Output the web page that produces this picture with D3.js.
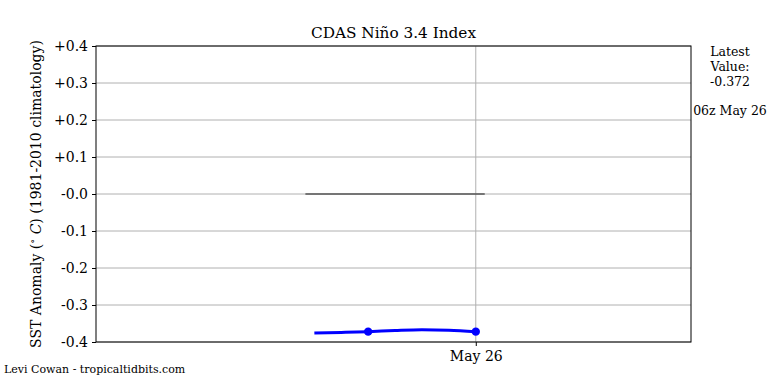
<!DOCTYPE html>
<meta charset="utf-8">
<head>
  <title>CDAS Nino 3.4 Index</title>
  <script src="https://d3js.org/d3.v7.min.js"></script>
  <style>
    body { margin: 0; background: #fff; }
    .grid line { stroke: #b0b0b0; stroke-width: 1; }
    .axis path, .axis line { stroke: #000; }
  </style>
</head>
<body>
  <svg width="768" height="384"></svg>
  <script>
    // hours relative to 00z May 26
    var hours = [-36, -30, -24, -18, -12, -6, 0];
    var values = [-0.376, -0.374, -0.372, -0.369, -0.367, -0.368, -0.372];
    var markerHours = [-24, 0];
    var markerValues = [-0.372, -0.372];
    var yTicks = [-0.4, -0.3, -0.2, -0.1, 0, 0.1, 0.2, 0.3, 0.4];
    var zeroSpan = [-38, 2];

    var FONT = "'DejaVu Serif'";
    var base = Date.UTC(2023, 4, 26, 0);
    function t(h) { return new Date(base + h * 3600e3); }

    var svg = d3.select("svg"),
      pl = 96, pr = 691, pt = 46, pb = 342;

    var x = d3.scaleUtc().domain([t(-84.7), t(48)]).range([pl, pr]);
    var y = d3.scaleLinear().domain([-0.4, 0.4]).range([pb, pt]);

    function fmt(v) {
      var s = Math.abs(v).toFixed(1);
      return (v > 0.0001 ? "+" : "-") + s;
    }

    // grid
    var grid = svg.append("g").attr("class", "grid");
    grid.selectAll("line.h").data(yTicks).enter().append("line")
      .attr("x1", pl).attr("x2", pr)
      .attr("y1", function(d) { return y(d); })
      .attr("y2", function(d) { return y(d); });
    grid.append("line")
      .attr("x1", x(t(0))).attr("x2", x(t(0)))
      .attr("y1", pt).attr("y2", pb);

    // zero line
    svg.append("line")
      .attr("x1", x(t(zeroSpan[0]))).attr("x2", x(t(zeroSpan[1])))
      .attr("y1", y(0)).attr("y2", y(0))
      .attr("stroke", "#555").attr("stroke-width", 1.5);

    // series
    var line = d3.line()
      .x(function(d, i) { return x(t(hours[i])); })
      .y(function(d) { return y(d); })
      .curve(d3.curveMonotoneX);
    svg.append("path").datum(values)
      .attr("d", line)
      .attr("fill", "none").attr("stroke", "#0000ff").attr("stroke-width", 3);
    svg.selectAll("circle").data(markerValues).enter().append("circle")
      .attr("cx", function(d, i) { return x(t(markerHours[i])); })
      .attr("cy", function(d) { return y(d); })
      .attr("r", 4.2).attr("fill", "#0000ff");

    // frame
    svg.append("rect")
      .attr("x", pl).attr("y", pt)
      .attr("width", pr - pl).attr("height", pb - pt)
      .attr("fill", "none").attr("stroke", "#000").attr("stroke-width", 1);

    // axes
    var yAxis = svg.append("g").attr("class", "axis")
      .attr("transform", "translate(" + pl + ",0)")
      .call(d3.axisLeft(y).tickValues(yTicks).tickFormat(fmt).tickSize(4).tickPadding(4));
    yAxis.select(".domain").remove();
    yAxis.selectAll("text").style("font-size", "14px").style("font-family", FONT).attr("fill", "#000");

    var xAxis = svg.append("g").attr("class", "axis")
      .attr("transform", "translate(0," + pb + ")")
      .call(d3.axisBottom(x).tickValues([t(0)]).tickFormat(function() { return "May 26"; }).tickSize(4).tickPadding(5));
    xAxis.select(".domain").remove();
    xAxis.selectAll("text").style("font-size", "14px").style("font-family", FONT).attr("fill", "#000");

    // title and labels
    svg.append("text").attr("x", (pl + pr) / 2).attr("y", 38)
      .attr("text-anchor", "middle").style("font-size", "15.3px").style("font-family", FONT)
      .text("CDAS Niño 3.4 Index");

    var ylab = svg.append("text")
      .attr("transform", "translate(41," + ((pt + pb) / 2) + ") rotate(-90)")
      .attr("text-anchor", "middle").style("font-size", "14px").style("font-family", FONT);
    ylab.append("tspan").text("SST Anomaly (");
    ylab.append("tspan").attr("dy", -5).style("font-size", "10px").text("\u2218");
    ylab.append("tspan").attr("dy", 5).text(" ");
    ylab.append("tspan").style("font-style", "italic").text("C");
    ylab.append("tspan").text(") (1981-2010 climatology)");

    var side = svg.append("text").attr("text-anchor", "middle")
      .style("font-size", "12.5px").style("font-family", FONT);
    [["Latest", 56], ["Value:", 71], ["-0.372", 86], ["06z May 26", 115]].forEach(function(r) {
      side.append("tspan").attr("x", 730).attr("y", r[1]).text(r[0]);
    });

    svg.append("text").attr("x", 4).attr("y", 373)
      .style("font-size", "11px").style("font-family", FONT)
      .text("Levi Cowan - tropicaltidbits.com");
  </script>
</body>
